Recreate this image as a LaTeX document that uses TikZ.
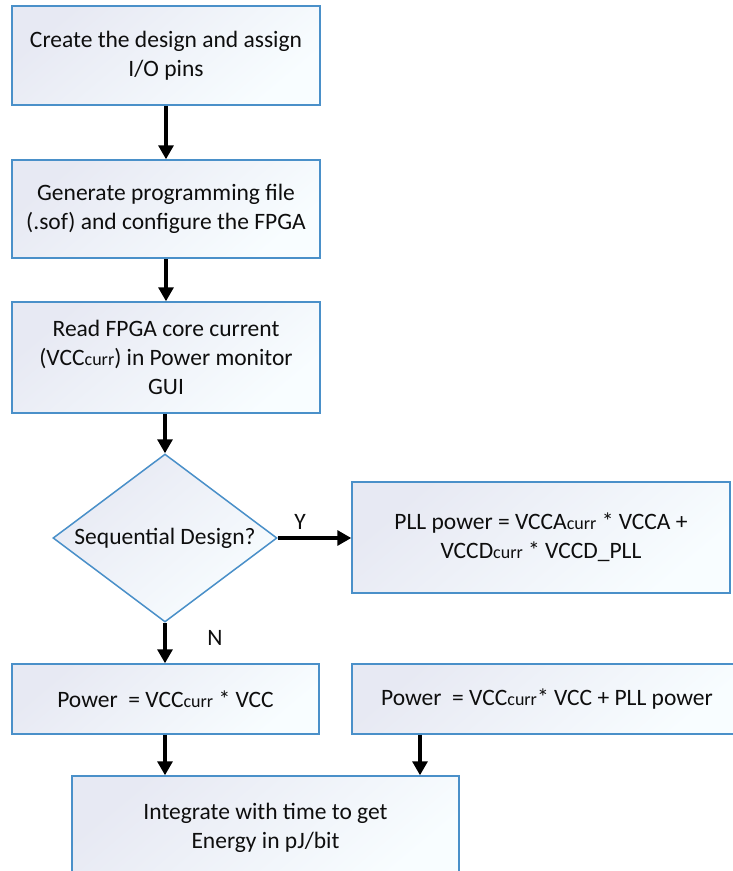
\documentclass[tikz,border=0pt]{standalone}
\usepackage{fontspec}
\setmainfont{Carlito}
\usetikzlibrary{shapes.geometric,arrows.meta}
\definecolor{edgeblue}{HTML}{4A90C9}
\definecolor{fillA}{HTML}{E7E9F3}
\definecolor{fillB}{HTML}{F8FDFF}
\definecolor{inkc}{HTML}{0E0E0E}
\newcommand\curr{{\fontsize{18}{20}\selectfont curr}}
\tikzset{
  flowbox/.style={draw=edgeblue, line width=1.5pt, top color=fillA, bottom color=fillB,
    shading angle=40, rectangle, inner sep=0pt},
  decision/.style={draw=edgeblue, line width=1.5pt, top color=fillA, bottom color=fillB,
    shading angle=40, diamond, inner sep=0pt},
  label/.style={text=inkc, align=center, font=\fontsize{23.5}{29}\selectfont, inner sep=0pt},
  arr/.style={draw=black, line width=3.2pt, -{Triangle[width=15pt,length=14pt]}},
}
\begin{document}
\begin{tikzpicture}[x=1pt,y=-1pt]
\useasboundingbox (0,0) rectangle (733,871);
\fill[white] (0,0) rectangle (733,871);

% process boxes
\node[flowbox, minimum width=308pt, minimum height=99pt] (b1) at (166,55.5) {};
\node[label] (t1) at (b1.center) {Create the design and assign\\I/O pins};

\node[flowbox, minimum width=308pt, minimum height=98pt] (b2) at (166,209) {};
\node[label] (t2) at (b2.center) {Generate programming file\\(.sof) and configure the FPGA};

\node[flowbox, minimum width=308pt, minimum height=111pt] (b3) at (166,357.5) {};
\node[label] (t3) at (b3.center) {Read FPGA core current\\(VCC\curr) in Power monitor\\GUI};

% decision
\node[decision, minimum width=224pt, minimum height=168pt] (q) at (165,538) {};
\node[label] (tq) at (q.center) {Sequential Design?};

\node[flowbox, minimum width=378pt, minimum height=111pt] (pll) at (541,537.5) {};
\node[label] (tpll) at (pll.center) {PLL power = VCCA\curr{} * VCCA +\\VCCD\curr{} * VCCD\_PLL};

% power boxes
\node[flowbox, minimum width=307pt, minimum height=70pt] (p1) at (165.5,699) {};
\node[label] (tp1) at (p1.center) {Power\ \ = VCC\curr{} * VCC};

\node[flowbox, minimum width=390pt, minimum height=70pt] (p2) at (547,699) {};
\node[label] (tp2) at (p2.center) {Power\ \ = VCC\curr* VCC + PLL power};

% final box, running past the lower edge
\node[flowbox, minimum width=387pt, minimum height=104pt] (fin) at (265.5,828) {};
\node[label] (tfin) at (fin.center) {Integrate with time to get\\Energy in pJ/bit};

% connectors
\draw[arr] (b1.south) -- (b2.north);
\draw[arr] (b2.south) -- (b3.north);
\draw[arr] (b3.south -| q.north) -- (q.north);
\draw[arr] (q.east) -- (pll.west |- q.east);
\draw[arr] (q.south) -- (q.south |- p1.north);
\draw[arr] (p1.south -| q.south) -- (fin.north -| q.south);
\coordinate (x2) at (420,0);
\draw[arr] (x2 |- p2.south) -- (x2 |- fin.north);

% branch labels
\node[label] (ly) at (300,522) {Y};
\node[label] (ln) at (215,638) {N};
\end{tikzpicture}
\end{document}
